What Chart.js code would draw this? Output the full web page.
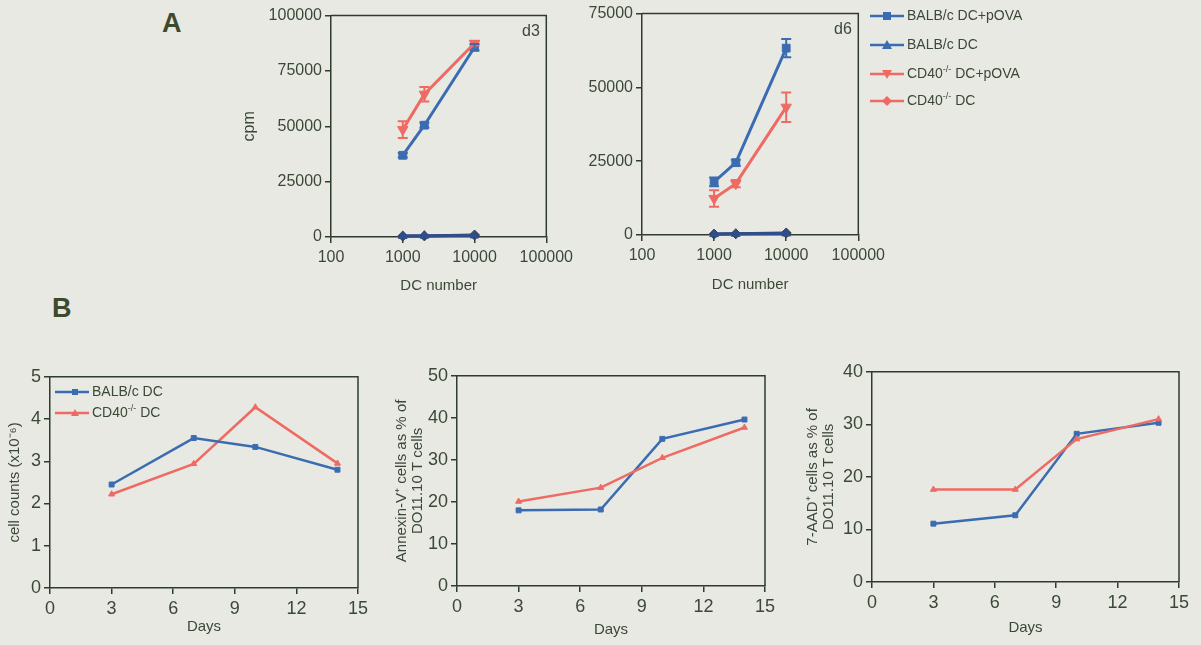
<!DOCTYPE html>
<html><head><meta charset="utf-8">
<script src="https://cdn.jsdelivr.net/npm/chart.js@4.4.1/dist/chart.umd.min.js"></script>
<style>
body{margin:0;background:#e9e9e4;width:1201px;height:645px;overflow:hidden;position:relative;font-family:"Liberation Sans",Arial,sans-serif;color:#3a4836}
canvas{position:absolute}
.t{position:absolute;white-space:nowrap;line-height:16px}
.big{position:absolute;font-weight:bold;font-size:27px;line-height:30px;color:#3d4a2c}
.leg{position:absolute;font-size:14px;line-height:16px;white-space:nowrap}
.leg svg{vertical-align:middle;margin-right:3px}
sup{font-size:9px;vertical-align:6px;line-height:0}
</style></head><body>
<canvas id="cA1" width="344" height="292" style="left:234px;top:3px"></canvas>
<canvas id="cA2" width="323" height="293" style="left:567px;top:1px"></canvas>
<canvas id="cB1" width="366" height="273" style="left:7px;top:363px"></canvas>
<canvas id="cB2" width="386" height="277" style="left:394px;top:362px"></canvas>
<canvas id="cB3" width="389" height="279" style="left:805px;top:358px"></canvas>

<div class="big" style="left:162px;top:8px">A</div>
<div class="big" style="left:52px;top:293px">B</div>
<div class="t" style="left:522px;top:23px;font-size:16px">d3</div>
<div class="t" style="left:834px;top:21px;font-size:16px">d6</div>

<div class="leg" style="left:870px;top:7px"><svg width="34" height="12"><line x1="0" y1="6" x2="34" y2="6" stroke="#3b6cb2" stroke-width="2.5"/><rect x="13" y="2" width="8" height="8" fill="#3b6cb2"/></svg>BALB/c DC+pOVA</div>
<div class="leg" style="left:870px;top:36px"><svg width="34" height="12"><line x1="0" y1="6" x2="34" y2="6" stroke="#3b6cb2" stroke-width="2.5"/><polygon points="17,1 22,10 12,10" fill="#3b6cb2"/></svg>BALB/c DC</div>
<div class="leg" style="left:870px;top:65px"><svg width="34" height="12"><line x1="0" y1="6" x2="34" y2="6" stroke="#ee6b63" stroke-width="2.5"/><polygon points="12,2 22,2 17,11" fill="#ee6b63"/></svg>CD40<sup>-/-</sup> DC+pOVA</div>
<div class="leg" style="left:870px;top:92px"><svg width="34" height="12"><line x1="0" y1="6" x2="34" y2="6" stroke="#ee6b63" stroke-width="2.5"/><polygon points="17,1 22,6 17,11 12,6" fill="#ee6b63"/></svg>CD40<sup>-/-</sup> DC</div>

<div class="leg" style="left:55px;top:383px"><svg width="34" height="12"><line x1="0" y1="6" x2="34" y2="6" stroke="#3b6cb2" stroke-width="2.5"/><rect x="17" y="3" width="6" height="6" fill="#3b6cb2"/></svg>BALB/c DC</div>
<div class="leg" style="left:55px;top:404px"><svg width="34" height="12"><line x1="0" y1="6" x2="34" y2="6" stroke="#ee6b63" stroke-width="2.5"/><polygon points="20,2 24,9 16,9" fill="#ee6b63"/></svg>CD40<sup>-/-</sup> DC</div>

<script>
// ---- Data ----
const dcNumbers = [1000, 2000, 10000];
const dcTicks = [100, 1000, 10000, 100000];

const d3BalbPova = [36900, 50500, 85700];
const d3BalbPovaErr = [1000, 1200, 1500];
const d3BalbDc = [500, 600, 700];
const d3Cd40Pova = [48500, 64500, 87500];
const d3Cd40PovaErr = [3800, 3300, 1000];
const d3Cd40Dc = [400, 500, 900];

const d6BalbPova = [18000, 24500, 63300];
const d6BalbPovaErr = [1500, 1000, 3100];
const d6BalbDc = [300, 400, 500];
const d6Cd40Pova = [12400, 17400, 43300];
const d6Cd40PovaErr = [2800, 1200, 5000];
const d6Cd40Dc = [300, 400, 700];

const days = [3, 7, 10, 14];
const countBalb = [2.45, 3.55, 3.34, 2.8];
const countCd40 = [2.22, 2.94, 4.28, 2.95];
const annexinBalb = [18.0, 18.2, 35.0, 39.6];
const annexinCd40 = [20.1, 23.4, 30.5, 37.7];
const aadBalb = [11.1, 12.7, 28.2, 30.3];
const aadCd40 = [17.6, 17.6, 27.2, 31.0];

// ---- Styles ----
const FONT = '"Liberation Sans", Arial, sans-serif';
const axisColor = '#2e3c2e';
const textColor = '#3a4836';
const blue = '#3b6cb2';
const red = '#ee6b63';

const boxPlugin = {
  id: 'box',
  afterDraw(chart) {
    const {ctx, chartArea: {left, top, right, bottom}} = chart;
    ctx.save();
    ctx.strokeStyle = axisColor; ctx.lineWidth = 1.5;
    ctx.beginPath(); ctx.moveTo(left, top); ctx.lineTo(right, top); ctx.lineTo(right, bottom); ctx.stroke();
    ctx.restore();
  }
};
const errPlugin = {
  id: 'err',
  afterDatasetsDraw(chart) {
    const {ctx} = chart;
    const ys = chart.scales.y;
    chart.data.datasets.forEach((ds, di) => {
      if (!ds.errors) return;
      const meta = chart.getDatasetMeta(di);
      ctx.save();
      ctx.strokeStyle = ds.borderColor; ctx.lineWidth = 2;
      meta.data.forEach((pt, i) => {
        const v = ds.data[i].y, e = ds.errors[i];
        const y1 = ys.getPixelForValue(v + e), y2 = ys.getPixelForValue(v - e);
        ctx.beginPath();
        ctx.moveTo(pt.x, y1); ctx.lineTo(pt.x, y2);
        ctx.moveTo(pt.x - 5, y1); ctx.lineTo(pt.x + 5, y1);
        ctx.moveTo(pt.x - 5, y2); ctx.lineTo(pt.x + 5, y2);
        ctx.stroke();
      });
      ctx.restore();
    });
  }
};

function axis(o) {
  const a = {
    type: o.type || 'linear', min: o.min, max: o.max,
    border: {display: true, color: axisColor, width: 1.5},
    grid: {drawOnChartArea: false, drawTicks: true, tickLength: 6, color: axisColor, lineWidth: 1.5},
    ticks: {color: textColor, font: {family: FONT, size: o.tickSize}, padding: o.pad, autoSkip: false, maxRotation: 0,
            callback: (v) => String(v)},
    title: o.title ? {display: true, text: o.title, color: textColor, padding: 0,
            font: {family: FONT, size: o.titleSize, lineHeight: o.lh || 1.2}} : {display: false},
    afterFit(s) { if (o.w !== undefined) s.width = o.w; if (o.h !== undefined) s.height = o.h; }
  };
  if (o.step) a.ticks.stepSize = o.step;
  if (o.fixed) a.afterBuildTicks = (s) => { s.ticks = o.fixed.map(v => ({value: v})); };
  return a;
}

function ds(label, xs, ys, color, style, r, lw, extra) {
  return Object.assign({
    label, data: xs.map((x, i) => ({x, y: ys[i]})),
    borderColor: color, backgroundColor: color, pointBackgroundColor: color, pointBorderColor: color,
    pointStyle: style, pointRadius: r, pointBorderWidth: 1, borderWidth: lw, tension: 0, clip: false
  }, extra || {});
}

function make(id, datasets, xo, yo, pad) {
  return new Chart(document.getElementById(id), {
    type: 'line',
    data: {datasets},
    options: {
      responsive: false, animation: false, devicePixelRatio: 1,
      layout: {padding: pad},
      plugins: {legend: {display: false}, tooltip: {enabled: false}},
      scales: {x: axis(xo), y: axis(yo)}
    },
    plugins: [boxPlugin, errPlugin]
  });
}

// ---- Panel A, d3 ----
make('cA1', [
  ds('CD40-/- DC+pOVA', dcNumbers, d3Cd40Pova, red, 'triangle', 6, 3, {rotation: 180, errors: d3Cd40PovaErr}),
  ds('BALB/c DC+pOVA', dcNumbers, d3BalbPova, blue, 'rect', 5.5, 3, {errors: d3BalbPovaErr}),
  ds('BALB/c DC', dcNumbers, d3BalbDc, '#2f4f8a', 'triangle', 5, 3),
  ds('CD40-/- DC', dcNumbers, d3Cd40Dc, '#3a3f5a', 'rectRot', 5, 3)
], {type: 'logarithmic', min: 100, max: 100000, fixed: dcTicks, tickSize: 16, pad: 5, title: 'DC number', titleSize: 15, h: 58},
   {min: 0, max: 100000, step: 25000, tickSize: 16, pad: 3, title: 'cpm', titleSize: 16, w: 91},
   {left: 6, top: 12, right: 30, bottom: 0});

// ---- Panel A, d6 ----
make('cA2', [
  ds('CD40-/- DC+pOVA', dcNumbers, d6Cd40Pova, red, 'triangle', 6, 3, {rotation: 180, errors: d6Cd40PovaErr}),
  ds('BALB/c DC+pOVA', dcNumbers, d6BalbPova, blue, 'rect', 5.5, 3, {errors: d6BalbPovaErr}),
  ds('BALB/c DC', dcNumbers, d6BalbDc, '#2f4f8a', 'triangle', 5, 3),
  ds('CD40-/- DC', dcNumbers, d6Cd40Dc, '#3a3f5a', 'rectRot', 5, 3)
], {type: 'logarithmic', min: 100, max: 100000, fixed: dcTicks, tickSize: 16, pad: 5, title: 'DC number', titleSize: 15, h: 59},
   {min: 0, max: 75000, step: 25000, tickSize: 16, pad: 3, w: 70},
   {left: 5, top: 12, right: 30, bottom: 0});

// ---- Panel B ----
const bx = (h) => ({min: 0, max: 15, step: 3, tickSize: 18, pad: 4, title: 'Days', titleSize: 15, h});
make('cB1', [
  ds('BALB/c DC', days, countBalb, blue, 'rect', 3.5, 2.5),
  ds('CD40-/- DC', days, countCd40, red, 'triangle', 3.5, 2.5)
], bx(48), {min: 0, max: 5, step: 1, tickSize: 18, pad: 3, title: 'cell counts (x10\u207B\u2076)', titleSize: 15, lh: 1.05, w: 43},
   {left: 0, top: 12, right: 15, bottom: 0});

make('cB2', [
  ds('CD40-/- DC', days, annexinCd40, red, 'triangle', 3.5, 2.5),
  ds('BALB/c DC', days, annexinBalb, blue, 'rect', 3.5, 2.5)
], bx(53), {min: 0, max: 50, step: 10, tickSize: 18, pad: 3, title: ['Annexin-V\u207A cells as % of', 'DO11.10 T cells'], titleSize: 15, lh: 1.05, w: 63},
   {left: 0, top: 12, right: 15, bottom: 0});

make('cB3', [
  ds('CD40-/- DC', days, aadCd40, red, 'triangle', 3.5, 2.5),
  ds('BALB/c DC', days, aadBalb, blue, 'rect', 3.5, 2.5)
], bx(55), {min: 0, max: 40, step: 10, tickSize: 18, pad: 3, title: ['7-AAD\u207A cells as % of', 'DO11.10 T cells'], titleSize: 15, lh: 1.05, w: 67},
   {left: 0, top: 12, right: 15, bottom: 0});
</script>
</body></html>
